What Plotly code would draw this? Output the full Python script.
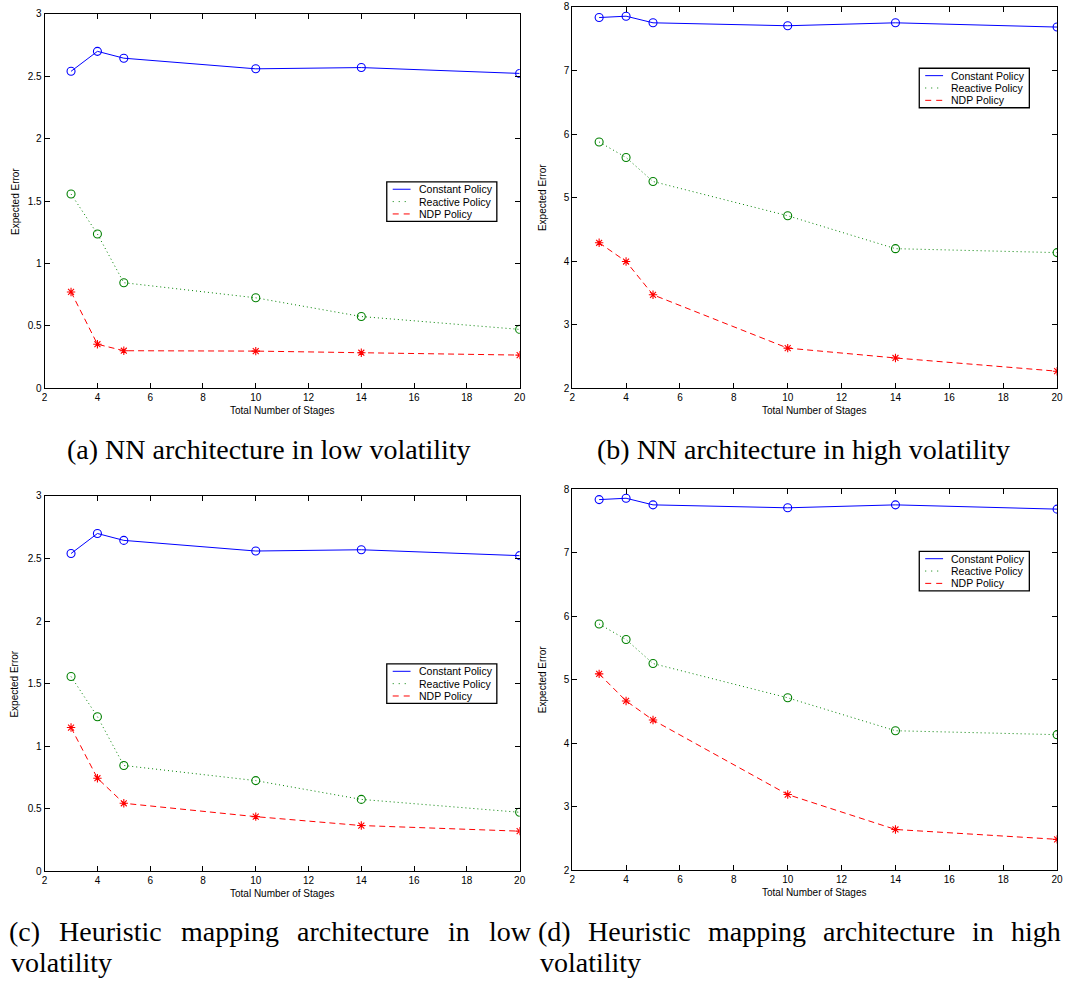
import plotly.graph_objects as go

# ---------------- data ----------------
stages = [3, 4, 5, 10, 14, 20]

# (a) NN architecture, low volatility
a_constant = [2.54, 2.70, 2.645, 2.56, 2.57, 2.523]
a_reactive = [1.557, 1.236, 0.846, 0.725, 0.575, 0.472]
a_ndp = [0.772, 0.353, 0.301, 0.298, 0.285, 0.266]

# (b) NN architecture, high volatility
b_constant = [7.834, 7.855, 7.751, 7.705, 7.751, 7.684]
b_reactive = [5.876, 5.632, 5.254, 4.715, 4.197, 4.135]
b_ndp = [4.290, 3.995, 3.471, 2.632, 2.477, 2.269]

# (c) Heuristic mapping architecture, low volatility
c_constant = [2.54, 2.70, 2.645, 2.56, 2.57, 2.523]
c_reactive = [1.557, 1.236, 0.846, 0.725, 0.575, 0.472]
c_ndp = [1.149, 0.744, 0.544, 0.437, 0.366, 0.321]

# (d) Heuristic mapping architecture, high volatility
d_constant = [7.834, 7.855, 7.751, 7.705, 7.751, 7.684]
d_reactive = [5.876, 5.632, 5.254, 4.715, 4.197, 4.135]
d_ndp = [5.091, 4.666, 4.365, 3.193, 2.643, 2.488]

series_names = ["Constant Policy", "Reactive Policy", "NDP Policy"]
x_title = "Total Number of Stages"
y_title = "Expected Error"
low_range = [0, 3]
high_range = [2, 8]

caption_a = "(a) NN architecture in low volatility"
caption_b = "(b) NN architecture in high volatility"
caption_c = ["(c) Heuristic mapping architecture in low", "volatility"]
caption_d = ["(d) Heuristic mapping architecture in high", "volatility"]

# ---------------- layout helpers ----------------
W, H = 1075, 986
SANS = "Liberation Sans, Arial, Helvetica, sans-serif"
SERIF = "Liberation Serif, Times New Roman, serif"

panels = [
    # data, y range, dtick, px box (left, right, top, bottom), legend top-left px
    ((a_constant, a_reactive, a_ndp), low_range, 0.5, (42, 521, 8, 387), (387, 178)),
    ((b_constant, b_reactive, b_ndp), high_range, 1, (574, 1063, 1, 387), (924, 63)),
    ((c_constant, c_reactive, c_ndp), low_range, 0.5, (42, 521, 496, 876), (387, 666)),
    ((d_constant, d_reactive, d_ndp), high_range, 1, (574, 1063, 489, 875), (924, 552)),
]

styles = [
    dict(color="#0000ff", dash="solid", symbol="circle-open"),
    dict(color="#008000", dash="1px,3px", symbol="circle-open"),
    dict(color="#ff0000", dash="6px,4px", symbol="asterisk-open"),
]

def px(x):
    return x / W

def py(y):
    return 1 - y / H

fig = go.Figure()
layout = dict(
    width=W, height=H,
    margin=dict(l=0, r=0, t=0, b=0),
    paper_bgcolor="white", plot_bgcolor="white",
    showlegend=False,
    annotations=[], shapes=[],
)

LEG_W, LEG_H = 111, 40
row_off = [7.5, 20, 32.5]

for i, (ys, yr, dt, (l, r, t, b), (lx, ly)) in enumerate(panels):
    n = i + 1
    xa = "x" if n == 1 else f"x{n}"
    ya = "y" if n == 1 else f"y{n}"
    for s, (yv, st) in enumerate(zip(ys, styles)):
        fig.add_trace(go.Scatter(
            x=stages, y=yv, mode="lines", name=series_names[s],
            line=dict(color=st["color"], width=1, dash=st["dash"]),
            xaxis=xa, yaxis=ya, hoverinfo="skip"))
        fig.add_trace(go.Scatter(
            x=stages, y=yv, mode="markers", name=series_names[s],
            marker=dict(symbol=st["symbol"], size=8 if s < 2 else 7,
                        color=st["color"], line=dict(color=st["color"], width=1.1)),
            xaxis=xa, yaxis=ya))
    axkw = dict(showline=True, linecolor="black", linewidth=1, mirror="ticks",
                ticks="inside", ticklen=5, tickcolor="black", tickwidth=1,
                showgrid=False, zeroline=False,
                tickfont=dict(family=SANS, size=10, color="black"))
    layout["xaxis" if n == 1 else f"xaxis{n}"] = dict(
        domain=[px(l), px(r)], range=[2, 20], dtick=2, tick0=2,
        anchor=ya, **axkw)
    layout["yaxis" if n == 1 else f"yaxis{n}"] = dict(
        domain=[py(b), py(t)], range=yr, dtick=dt, tick0=yr[0],
        anchor=xa, **axkw)

    # custom legend (box, line samples, labels)
    layout["shapes"].append(dict(
        type="rect", xref="paper", yref="paper",
        x0=px(lx), x1=px(lx + LEG_W), y0=py(ly + LEG_H), y1=py(ly),
        line=dict(color="black", width=1.3), fillcolor="white", layer="above"))
    for s, st in enumerate(styles):
        yy = ly + row_off[s]
        layout["shapes"].append(dict(
            type="line", xref="paper", yref="paper",
            x0=px(lx + 6), x1=px(lx + 24), y0=py(yy), y1=py(yy),
            line=dict(color=st["color"], width=1,
                      dash="1px,5px" if s == 1 else ("6px,5px" if s == 2 else "solid")),
            layer="above"))
        layout["annotations"].append(dict(
            text=series_names[s], xref="paper", yref="paper",
            x=px(lx + 30), y=py(yy), showarrow=False,
            font=dict(family=SANS, size=10.5, color="black"),
            xanchor="left", yanchor="middle"))

    # axis titles
    layout["annotations"].append(dict(
        text=x_title, xref="paper", yref="paper",
        x=px((l + r) / 2), y=py(b + 22), showarrow=False,
        font=dict(family=SANS, size=10, color="black"),
        xanchor="center", yanchor="middle"))
    layout["annotations"].append(dict(
        text=y_title, xref="paper", yref="paper",
        x=px(l - 30), y=py((t + b) / 2), showarrow=False, textangle=-90,
        font=dict(family=SANS, size=10, color="black"),
        xanchor="center", yanchor="middle"))

CAP_SIZE = 28
capfont = dict(family=SERIF, size=CAP_SIZE, color="black")

def cap(text, xc, yc, anchor="center"):
    layout["annotations"].append(dict(
        text=text, xref="paper", yref="paper", x=px(xc), y=py(yc),
        showarrow=False, font=capfont, xanchor=anchor, yanchor="middle"))

# approximate Times/Liberation Serif advance widths (per 1000 em) for justification
TW = {"(": 333, ")": 333, "a": 444, "b": 500, "c": 444, "d": 500, "e": 444,
      "g": 500, "h": 500, "i": 278, "l": 278, "m": 778, "n": 500, "o": 500,
      "p": 500, "r": 333, "s": 389, "t": 278, "u": 500, "w": 722, "H": 722,
      "v": 500, "y": 500}

def word_w(w):
    return sum(TW.get(ch, 500) for ch in w) / 1000 * CAP_SIZE

def justified(line, x0, x1, yc):
    words = line.split()
    widths = [word_w(w) for w in words]
    gap = (x1 - x0 - sum(widths)) / (len(words) - 1)
    x = x0
    for w, wd in zip(words, widths):
        cap(w, x + wd / 2, yc)
        x += wd + gap

cap(caption_a, 268, 449)
cap(caption_b, 807, 449)

justified(caption_c[0], 6, 533, 937)
justified(caption_d[0], 540, 1067, 937)
cap(caption_c[1], 6, 968, anchor="left")
cap(caption_d[1], 540, 968, anchor="left")

fig.update_layout(**layout)
fig.write_html("out.html")
